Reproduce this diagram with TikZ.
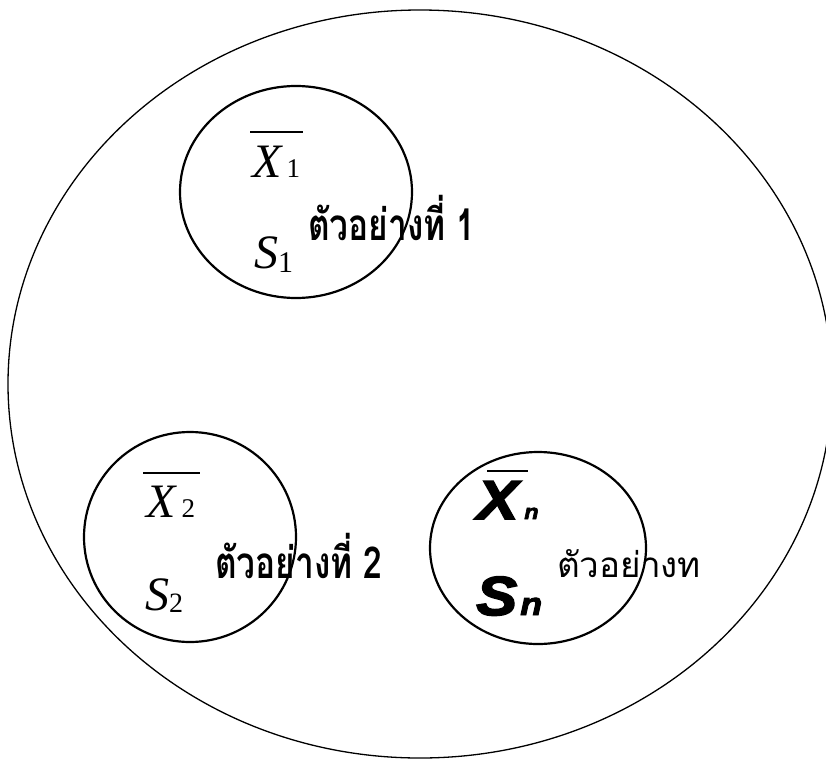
\documentclass[tikz,border=0pt]{standalone}
\usepackage{fontspec}
\setmainfont{Liberation Serif}
\newfontfamily\thaifont[Script=Thai]{Loma}
\newfontfamily\thaicond[Script=Thai, FakeStretch=0.76]{Loma}
\newfontfamily\heavysans[FakeBold=3, FakeStretch=1.12]{Liberation Sans Bold Italic}
\usetikzlibrary{shapes.geometric}
\newcommand{\meanbar}[3]{\rlap{\kern#1\rule[#2]{#3}{2pt}}}

\begin{document}
\begin{tikzpicture}[x=1pt, y=-1pt,
    population/.style={draw=black, line width=1.3pt, ellipse, inner sep=0pt},
    sample/.style={draw=black, line width=2.2pt, ellipse, inner sep=0pt},
    stat/.style={anchor=base west, inner sep=0pt,
                 font=\fontsize{48}{48}\selectfont\itshape},
    heavystat/.style={anchor=base west, inner sep=0pt,
                 font=\heavysans\fontsize{55}{55}\selectfont},
    samplename/.style={anchor=base west, inner sep=0pt,
                 font=\thaicond\fontsize{44}{44}\selectfont\bfseries},
    samplenamelight/.style={anchor=base west, inner sep=0pt,
                 font=\thaifont\fontsize{35}{35}\selectfont}
  ]
  \useasboundingbox (0,0) rectangle (826,760);

  % --- population ---
  \node[population, minimum width=824pt, minimum height=748pt] (pop) at (420,384) {};

  % --- sample 1 ---
  \node[sample, minimum width=232pt, minimum height=212pt] (samp1) at (296,192) {};
  \node[stat] (xbar1) at (252,177) {\meanbar{-2pt}{44pt}{53pt}X\kern5pt{\fontsize{27}{27}\selectfont\upshape 1}};
  \node[stat] (s1)    at (254,268) {S{\fontsize{30}{30}\selectfont\upshape\raisebox{-4pt}{1}}};
  \node[samplename] (name1) at (308,240) {ตัวอย่างที่ 1};

  % --- sample 2 ---
  \node[sample, minimum width=212pt, minimum height=210pt] (samp2) at (190,537) {};
  \node[stat] (xbar2) at (146,517) {\meanbar{-3pt}{43pt}{57pt}X\kern6pt{\fontsize{27}{27}\selectfont\upshape 2}};
  \node[stat] (s2)    at (145,610) {S{\fontsize{28}{28}\selectfont\upshape\raisebox{-2pt}{2}}};
  \node[samplename] (name2) at (215,578) {ตัวอย่างที่ 2};

  % --- sample n ---
  \node[sample, minimum width=216pt, minimum height=192pt] (sampn) at (538,548) {};
  \node[heavystat] (xbarn) at (477,519) {\meanbar{10pt}{47pt}{41pt}X\kern6pt{\fontsize{21}{21}\selectfont n}};
  \node[heavystat] (sn)    at (476,615) {S\kern3pt{\fontsize{32}{32}\selectfont n}};
  \node[samplenamelight] (namen) at (557,577) {ตัวอย่างท};
\end{tikzpicture}
\end{document}
